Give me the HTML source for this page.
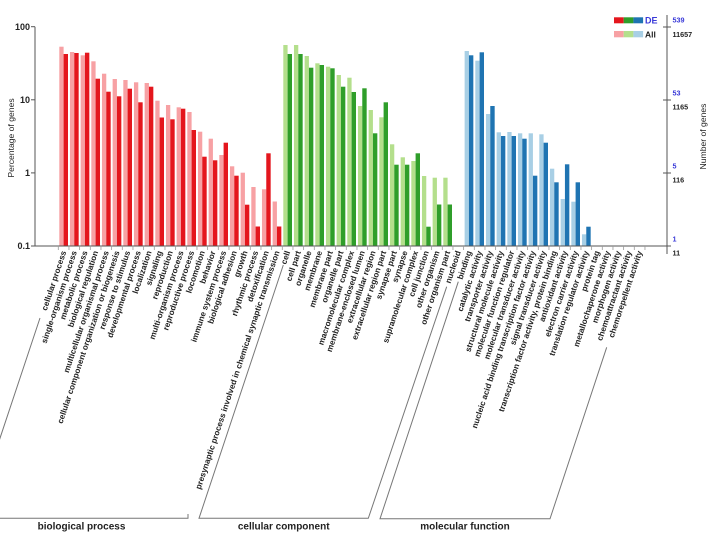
<!DOCTYPE html>
<html><head><meta charset="utf-8"><style>
html,body{margin:0;padding:0;background:#fff;}
svg{display:block;}
text{font-family:"Liberation Sans",Arial,sans-serif;}
.lb{font-size:8.2px;font-weight:bold;fill:#222;}
.lr rect{fill:#f7a1a4}.dr rect{fill:#e4161d}
.lg rect{fill:#b4df8c}.dg rect{fill:#2f9e2a}
.lbb rect{fill:#a8cfe5}.db rect{fill:#1f74b2}
</style></head><body>
<svg width="716" height="538" viewBox="0 0 716 538" xmlns="http://www.w3.org/2000/svg">
<rect width="716" height="538" fill="#fff"/>
<!-- light red -->
<g class="lr">
<rect x="59.3" y="46.7" width="4.3" height="199.3"/>
<rect x="69.97" y="52" width="4.3" height="194"/>
<rect x="80.63" y="55.3" width="4.3" height="190.7"/>
<rect x="91.3" y="61.3" width="4.3" height="184.7"/>
<rect x="101.97" y="73.7" width="4.3" height="172.3"/>
<rect x="112.63" y="79" width="4.3" height="167"/>
<rect x="123.3" y="80" width="4.3" height="166"/>
<rect x="133.97" y="82.3" width="4.3" height="163.7"/>
<rect x="144.63" y="83" width="4.3" height="163"/>
<rect x="155.3" y="100.7" width="4.3" height="145.3"/>
<rect x="165.97" y="105" width="4.3" height="141"/>
<rect x="176.63" y="107.3" width="4.3" height="138.7"/>
<rect x="187.3" y="112" width="4.3" height="134"/>
<rect x="197.97" y="131.7" width="4.3" height="114.3"/>
<rect x="208.63" y="138.7" width="4.3" height="107.3"/>
<rect x="219.3" y="155" width="4.3" height="91"/>
<rect x="229.97" y="166.3" width="4.3" height="79.7"/>
<rect x="240.63" y="172.7" width="4.3" height="73.3"/>
<rect x="251.3" y="187" width="4.3" height="59"/>
<rect x="261.97" y="189.3" width="4.3" height="56.7"/>
<rect x="272.63" y="201.5" width="4.3" height="44.5"/>
</g>
<g class="dr">
<rect x="63.6" y="54" width="4.4" height="192"/>
<rect x="74.27" y="53" width="4.4" height="193"/>
<rect x="84.93" y="52.7" width="4.4" height="193.3"/>
<rect x="95.6" y="78.7" width="4.4" height="167.3"/>
<rect x="106.27" y="91.7" width="4.4" height="154.3"/>
<rect x="116.93" y="96.3" width="4.4" height="149.7"/>
<rect x="127.6" y="88.7" width="4.4" height="157.3"/>
<rect x="138.27" y="102.3" width="4.4" height="143.7"/>
<rect x="148.93" y="86.7" width="4.4" height="159.3"/>
<rect x="159.6" y="117.5" width="4.4" height="128.5"/>
<rect x="170.27" y="119.3" width="4.4" height="126.7"/>
<rect x="180.93" y="108.7" width="4.4" height="137.3"/>
<rect x="191.6" y="130" width="4.4" height="116"/>
<rect x="202.27" y="156.7" width="4.4" height="89.3"/>
<rect x="212.93" y="160.3" width="4.4" height="85.7"/>
<rect x="223.6" y="142.7" width="4.4" height="103.3"/>
<rect x="234.27" y="175.7" width="4.4" height="70.3"/>
<rect x="244.93" y="204.7" width="4.4" height="41.3"/>
<rect x="255.6" y="226.5" width="4.4" height="19.5"/>
<rect x="266.27" y="153.3" width="4.4" height="92.7"/>
<rect x="276.93" y="226.5" width="4.4" height="19.5"/>
</g>
<!-- green -->
<g class="lg">
<rect x="283.3" y="45" width="4.3" height="201"/>
<rect x="293.97" y="45" width="4.3" height="201"/>
<rect x="304.63" y="56" width="4.3" height="190"/>
<rect x="315.3" y="63.3" width="4.3" height="182.7"/>
<rect x="325.97" y="66.7" width="4.3" height="179.3"/>
<rect x="336.63" y="75" width="4.3" height="171"/>
<rect x="347.3" y="77.7" width="4.3" height="168.3"/>
<rect x="357.97" y="106" width="4.3" height="140"/>
<rect x="368.63" y="110" width="4.3" height="136"/>
<rect x="379.3" y="117.3" width="4.3" height="128.7"/>
<rect x="389.97" y="144.3" width="4.3" height="101.7"/>
<rect x="400.63" y="157.3" width="4.3" height="88.7"/>
<rect x="411.3" y="161" width="4.3" height="85"/>
<rect x="421.97" y="176" width="4.3" height="70"/>
<rect x="432.63" y="177.7" width="4.3" height="68.3"/>
<rect x="443.3" y="177.7" width="4.3" height="68.3"/>
</g>
<g class="dg">
<rect x="287.6" y="54" width="4.4" height="192"/>
<rect x="298.27" y="54" width="4.4" height="192"/>
<rect x="308.93" y="67.7" width="4.4" height="178.3"/>
<rect x="319.6" y="65" width="4.4" height="181"/>
<rect x="330.27" y="68.3" width="4.4" height="177.7"/>
<rect x="340.93" y="86.7" width="4.4" height="159.3"/>
<rect x="351.6" y="92" width="4.4" height="154"/>
<rect x="362.27" y="88.3" width="4.4" height="157.7"/>
<rect x="372.93" y="133.3" width="4.4" height="112.7"/>
<rect x="383.6" y="102.3" width="4.4" height="143.7"/>
<rect x="394.27" y="164.7" width="4.4" height="81.3"/>
<rect x="404.93" y="164.7" width="4.4" height="81.3"/>
<rect x="415.6" y="153.3" width="4.4" height="92.7"/>
<rect x="426.27" y="226.7" width="4.4" height="19.3"/>
<rect x="436.93" y="204.5" width="4.4" height="41.5"/>
<rect x="447.6" y="204.5" width="4.4" height="41.5"/>
</g>
<!-- blue -->
<g class="lbb">
<rect x="464.63" y="51" width="4.3" height="195"/>
<rect x="475.3" y="60.7" width="4.3" height="185.3"/>
<rect x="485.97" y="114" width="4.3" height="132"/>
<rect x="496.63" y="132.3" width="4.3" height="113.7"/>
<rect x="507.3" y="132" width="4.3" height="114"/>
<rect x="517.97" y="133.3" width="4.3" height="112.7"/>
<rect x="528.63" y="133.3" width="4.3" height="112.7"/>
<rect x="539.3" y="134.3" width="4.3" height="111.7"/>
<rect x="549.97" y="168.7" width="4.3" height="77.3"/>
<rect x="560.63" y="199" width="4.3" height="47"/>
<rect x="571.3" y="201.7" width="4.3" height="44.3"/>
<rect x="581.97" y="234.3" width="4.3" height="11.7"/>
</g>
<g class="db">
<rect x="468.93" y="55.3" width="4.4" height="190.7"/>
<rect x="479.6" y="52.3" width="4.4" height="193.7"/>
<rect x="490.27" y="106" width="4.4" height="140"/>
<rect x="500.93" y="136" width="4.4" height="110"/>
<rect x="511.6" y="136" width="4.4" height="110"/>
<rect x="522.27" y="138.7" width="4.4" height="107.3"/>
<rect x="532.93" y="175.7" width="4.4" height="70.3"/>
<rect x="543.6" y="142.7" width="4.4" height="103.3"/>
<rect x="554.27" y="182.3" width="4.4" height="63.7"/>
<rect x="564.93" y="164.3" width="4.4" height="81.7"/>
<rect x="575.6" y="182.3" width="4.4" height="63.7"/>
<rect x="586.27" y="226.7" width="4.4" height="19.3"/>
</g>

<!-- axes -->
<g stroke="#555" stroke-width="1" fill="none">
<line x1="35" y1="26.7" x2="35" y2="246"/>
<line x1="31" y1="26.7" x2="35" y2="26.7"/>
<line x1="31" y1="99.8" x2="35" y2="99.8"/>
<line x1="31" y1="172.9" x2="35" y2="172.9"/>
<line x1="31" y1="246" x2="35" y2="246"/>
<line x1="35" y1="246" x2="667" y2="246"/>
<line x1="667" y1="15" x2="667" y2="254"/>
<line x1="663" y1="27" x2="671" y2="27"/>
<line x1="663" y1="100" x2="671" y2="100"/>
<line x1="663" y1="173" x2="671" y2="173"/>
<line x1="663" y1="246" x2="671" y2="246"/>
</g>
<g stroke="#999" stroke-width="0.8">
<path d="M58.3 246v4M68.97 246v4M79.63 246v4M90.3 246v4M100.97 246v4M111.63 246v4M122.3 246v4M132.97 246v4M143.63 246v4M154.3 246v4M164.97 246v4M175.63 246v4M186.3 246v4M196.97 246v4M207.63 246v4M218.3 246v4M228.97 246v4M239.63 246v4M250.3 246v4M260.97 246v4M271.63 246v4M282.3 246v4M292.97 246v4M303.63 246v4M314.3 246v4M324.97 246v4M335.63 246v4M346.3 246v4M356.97 246v4M367.63 246v4M378.3 246v4M388.97 246v4M399.63 246v4M410.3 246v4M420.97 246v4M431.63 246v4M442.3 246v4M452.97 246v4M463.63 246v4M474.3 246v4M484.97 246v4M495.63 246v4M506.3 246v4M516.97 246v4M527.63 246v4M538.3 246v4M548.97 246v4M559.63 246v4M570.3 246v4M580.97 246v4M591.63 246v4M602.3 246v4M612.97 246v4M623.63 246v4M634.3 246v4M644.97 246v4"/>
</g>

<!-- left axis labels -->
<g font-size="9" font-weight="bold" fill="#222" text-anchor="end">
<text x="30" y="30">100</text>
<text x="30" y="103">10</text>
<text x="30" y="176">1</text>
<text x="30" y="249">0.1</text>
</g>
<text transform="translate(14,138) rotate(-90)" text-anchor="middle" font-size="8.6" fill="#222">Percentage of genes</text>

<!-- right axis labels -->
<g font-size="7.2" font-weight="bold">
<text x="672.5" y="22.5" fill="#3a3ad8">539</text>
<text x="672.5" y="37" fill="#222">11657</text>
<text x="672.5" y="95.5" fill="#3a3ad8">53</text>
<text x="672.5" y="109.5" fill="#222">1165</text>
<text x="672.5" y="168.5" fill="#3a3ad8">5</text>
<text x="672.5" y="182.5" fill="#222">116</text>
<text x="672.5" y="241.5" fill="#3a3ad8">1</text>
<text x="672.5" y="255.5" fill="#222">11</text>
</g>
<text transform="translate(706,136.5) rotate(-90)" text-anchor="middle" font-size="8.6" fill="#222">Number of genes</text>

<!-- legend -->
<rect x="614" y="17.3" width="9.7" height="6" fill="#e4161d"/>
<rect x="623.7" y="17.3" width="9.7" height="6" fill="#2f9e2a"/>
<rect x="633.4" y="17.3" width="9.7" height="6" fill="#1f74b2"/>
<rect x="614" y="31" width="9.7" height="6.3" fill="#f7a1a4"/>
<rect x="623.7" y="31" width="9.7" height="6.3" fill="#b4df8c"/>
<rect x="633.4" y="31" width="9.7" height="6.3" fill="#a8cfe5"/>
<text x="645" y="23.5" font-size="9" font-weight="bold" fill="#3a3ad8">DE</text>
<text x="645" y="37.5" font-size="8.5" font-weight="bold" fill="#222">All</text>

<!-- x labels -->
<g class="lb" text-anchor="end">
<text transform="translate(63.6,251) rotate(-71.6)" dy="0.35em">cellular process</text>
<text transform="translate(74.27,251) rotate(-71.6)" dy="0.35em">single-organism process</text>
<text transform="translate(84.93,251) rotate(-71.6)" dy="0.35em">metabolic process</text>
<text transform="translate(95.6,251) rotate(-71.6)" dy="0.35em">biological regulation</text>
<text transform="translate(106.27,251) rotate(-71.6)" dy="0.35em">multicellular organismal process</text>
<text transform="translate(116.93,251) rotate(-71.6)" dy="0.35em">cellular component organization or biogenesis</text>
<text transform="translate(127.6,251) rotate(-71.6)" dy="0.35em">response to stimulus</text>
<text transform="translate(138.27,251) rotate(-71.6)" dy="0.35em">developmental process</text>
<text transform="translate(148.93,251) rotate(-71.6)" dy="0.35em">localization</text>
<text transform="translate(159.6,251) rotate(-71.6)" dy="0.35em">signaling</text>
<text transform="translate(170.27,251) rotate(-71.6)" dy="0.35em">reproduction</text>
<text transform="translate(180.93,251) rotate(-71.6)" dy="0.35em">multi-organism process</text>
<text transform="translate(191.6,251) rotate(-71.6)" dy="0.35em">reproductive process</text>
<text transform="translate(202.27,251) rotate(-71.6)" dy="0.35em">locomotion</text>
<text transform="translate(212.93,251) rotate(-71.6)" dy="0.35em">behavior</text>
<text transform="translate(223.6,251) rotate(-71.6)" dy="0.35em">immune system process</text>
<text transform="translate(234.27,251) rotate(-71.6)" dy="0.35em">biological adhesion</text>
<text transform="translate(244.93,251) rotate(-71.6)" dy="0.35em">growth</text>
<text transform="translate(255.6,251) rotate(-71.6)" dy="0.35em">rhythmic process</text>
<text transform="translate(266.27,251) rotate(-71.6)" dy="0.35em">detoxification</text>
<text transform="translate(276.93,251) rotate(-71.6)" dy="0.35em">presynaptic process involved in chemical synaptic transmission</text>
<text transform="translate(287.6,251) rotate(-71.6)" dy="0.35em">cell</text>
<text transform="translate(298.27,251) rotate(-71.6)" dy="0.35em">cell part</text>
<text transform="translate(308.93,251) rotate(-71.6)" dy="0.35em">organelle</text>
<text transform="translate(319.6,251) rotate(-71.6)" dy="0.35em">membrane</text>
<text transform="translate(330.27,251) rotate(-71.6)" dy="0.35em">membrane part</text>
<text transform="translate(340.93,251) rotate(-71.6)" dy="0.35em">organelle part</text>
<text transform="translate(351.6,251) rotate(-71.6)" dy="0.35em">macromolecular complex</text>
<text transform="translate(362.27,251) rotate(-71.6)" dy="0.35em">membrane-enclosed lumen</text>
<text transform="translate(372.93,251) rotate(-71.6)" dy="0.35em">extracellular region</text>
<text transform="translate(383.6,251) rotate(-71.6)" dy="0.35em">extracellular region part</text>
<text transform="translate(394.27,251) rotate(-71.6)" dy="0.35em">synapse part</text>
<text transform="translate(404.93,251) rotate(-71.6)" dy="0.35em">synapse</text>
<text transform="translate(415.6,251) rotate(-71.6)" dy="0.35em">supramolecular complex</text>
<text transform="translate(426.27,251) rotate(-71.6)" dy="0.35em">cell junction</text>
<text transform="translate(436.93,251) rotate(-71.6)" dy="0.35em">other organism</text>
<text transform="translate(447.6,251) rotate(-71.6)" dy="0.35em">other organism part</text>
<text transform="translate(458.27,251) rotate(-71.6)" dy="0.35em">nucleoid</text>
<text transform="translate(468.93,251) rotate(-71.6)" dy="0.35em">binding</text>
<text transform="translate(479.6,251) rotate(-71.6)" dy="0.35em">catalytic activity</text>
<text transform="translate(490.27,251) rotate(-71.6)" dy="0.35em">transporter activity</text>
<text transform="translate(500.93,251) rotate(-71.6)" dy="0.35em">structural molecule activity</text>
<text transform="translate(511.6,251) rotate(-71.6)" dy="0.35em">molecular function regulator</text>
<text transform="translate(522.27,251) rotate(-71.6)" dy="0.35em">molecular transducer activity</text>
<text transform="translate(532.93,251) rotate(-71.6)" dy="0.35em">nucleic acid binding transcription factor activity</text>
<text transform="translate(543.6,251) rotate(-71.6)" dy="0.35em">signal transducer activity</text>
<text transform="translate(554.27,251) rotate(-71.6)" dy="0.35em">transcription factor activity, protein binding</text>
<text transform="translate(564.93,251) rotate(-71.6)" dy="0.35em">antioxidant activity</text>
<text transform="translate(575.6,251) rotate(-71.6)" dy="0.35em">electron carrier activity</text>
<text transform="translate(586.27,251) rotate(-71.6)" dy="0.35em">translation regulator activity</text>
<text transform="translate(596.93,251) rotate(-71.6)" dy="0.35em">protein tag</text>
<text transform="translate(607.6,251) rotate(-71.6)" dy="0.35em">metallochaperone activity</text>
<text transform="translate(618.27,251) rotate(-71.6)" dy="0.35em">morphogen activity</text>
<text transform="translate(628.93,251) rotate(-71.6)" dy="0.35em">chemoattractant activity</text>
<text transform="translate(639.6,251) rotate(-71.6)" dy="0.35em">chemorepellent activity</text>
</g>

<!-- brackets -->
<g stroke="#777" stroke-width="1" fill="none">
<polyline points="40,318 -26.7,518.3 188,518.3 188,514"/>
<polyline points="283.3,265 199,518.3 368.3,518.3 446.7,286.7"/>
<polyline points="458.3,281.7 380,518.8 550,518.8 606.7,347.3"/>
</g>
<g font-size="10" font-weight="bold" fill="#222" text-anchor="middle">
<text x="81.5" y="529.5">biological process</text>
<text x="283.7" y="529.5">cellular component</text>
<text x="465" y="529.5">molecular function</text>
</g>
</svg>
</body></html>
